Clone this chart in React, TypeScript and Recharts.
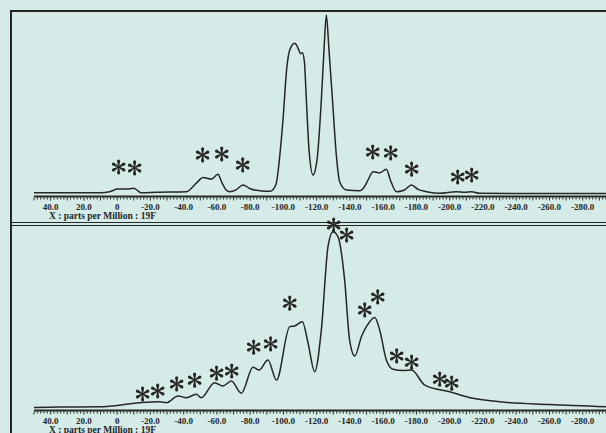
import { ComposedChart, Line, Scatter, XAxis, YAxis } from "recharts";

// chemical shift (ppm) and relative intensity, upper spectrum
const topPpm = [50, 30, 10, 4.5, -0.5, -5.5, -9.9, -12, -14.5, -23.6, -41.6, -45.6, -48.5, -51.6, -56.7, -60.6, -63, -65.5, -67.7, -71.5, -75.7, -80, -85.7, -92, -95.5, -97.7, -99.7, -102.1, -103.8, -106.8, -108.8, -110.2, -111.4, -112.6, -113.8, -115.4, -117.8, -120.2, -122.8, -124.4, -125.8, -127.4, -129.5, -131.9, -133.8, -137.9, -145.9, -148.5, -150.9, -153.9, -157.9, -161.9, -164.3, -167.9, -172.5, -177, -181, -186, -194, -204, -209, -213, -218, -250, -300];
const topInt = [2.0, 2.0, 2.0, 2.6, 4.0, 4.0, 4.4, 3.4, 2.0, 2.3, 2.6, 5.3, 8.0, 10.3, 9.4, 12.0, 7.5, 3.5, 2.6, 3.6, 6.2, 4.2, 3.1, 2.8, 6.5, 21, 41, 70, 79, 82.6, 80, 77, 77.5, 72.7, 52, 25, 11.6, 19.7, 52, 79, 97.8, 79, 52, 21.5, 8, 3.5, 3.1, 5.0, 8.9, 13.4, 12.8, 14.7, 8.9, 2.6, 3.4, 6.2, 3.8, 2.6, 1.7, 2.6, 2.3, 2.6, 1.7, 1.6, 1.6];

// lower spectrum
const botPpm = [50, 35, 10.5, -13.5, -25.6, -29.6, -36.6, -41.6, -47.6, -50.6, -58.6, -63.6, -68.7, -74.7, -81.7, -85.3, -90.7, -95.8, -103.8, -106.8, -111.4, -114.8, -118.8, -122.8, -126.8, -129.8, -132.8, -136.8, -139.8, -142.9, -146.9, -149.9, -154.9, -157.9, -161.9, -165.9, -172, -177, -185, -200, -214, -230, -260, -300];
const botInt = [1.6, 1.9, 2.0, 4.2, 4.7, 4.2, 7.8, 6.9, 8.7, 6.9, 15, 13.2, 15.9, 9.3, 23.3, 21.8, 27.2, 16.4, 45.2, 45.6, 47.9, 36.4, 20.9, 43.4, 88.3, 96.4, 93.7, 70.4, 38, 29.4, 39.8, 45.2, 50.2, 43.4, 27.2, 22.2, 21.5, 21.8, 13.7, 10.1, 6.6, 4.7, 3.2, 1.8];

// asterisk annotations
const topStarPpm = [-0.9, -10.5, -51.4, -62.9, -75.5, -153.7, -164.5, -177.1, -204.8, -213.2];
const topStarInt = [15.9, 15.4, 22.4, 22.9, 17, 24, 23.5, 14.8, 10.5, 11.6];
const botStarPpm = [-15.3, -24.4, -35.8, -46.6, -59.8, -68.9, -82.1, -92.3, -103.8, -130.2, -138, -148.9, -156.7, -168.1, -177.1, -194, -201.2];
const botStarInt = [8.9, 10.5, 14.3, 16.4, 20.2, 21.3, 34.2, 35.9, 57.9, 100, 94.6, 54.2, 61.2, 29.4, 26.1, 16.9, 14.8];

const labelTicks = [40, 20, 0, -20, -40, -60, -80, -100, -120, -140, -160, -180, -200, -220, -240, -260, -280];

const minorTicks: number[] = [];
for (let v = 50; v >= -300; v -= 2) minorTicks.push(v);

const ink = "#262626";
const bg = "#d4ebe8";
const serif = "'Liberation Serif', 'Times New Roman', serif";

const zip = (a: number[], b: number[]) => a.map((p, i) => ({ ppm: p, v: b[i] }));

const AxisTick = ({ x, y, payload }: any) => {
  const v = payload.value;
  const long = v % 10 === 0;
  return (
    <g>
      <line x1={x} x2={x} y1={y + 1} y2={y + (long ? 4 : 3)} stroke={ink} strokeWidth={1} />
      {labelTicks.includes(v) && (
        <text x={x} y={y + 13} textAnchor="middle" fontFamily={serif} fontWeight="bold" fontSize={9} fill={ink}>
          {v === 0 ? "0" : v.toFixed(1)}
        </text>
      )}
    </g>
  );
};

const AxisTitle = ({ viewBox }: any) => (
  <text x={viewBox.x + 15} y={viewBox.y + 22.5} fontFamily={serif} fontWeight="bold" fontSize={9.5} fill={ink}>
    X : parts per Million : 19F
  </text>
);

// six-spoked asterisk, spokes widen towards the tips
const Star = ({ cx, cy }: any) => {
  const r = 7.5;
  const spokes = [90, 30, -30, -90, 150, 210].map((deg) => {
    const a = (deg * Math.PI) / 180;
    const ux = Math.cos(a);
    const uy = -Math.sin(a);
    const px = -uy;
    const py = ux;
    const tx = cx + ux * (r - 1.4);
    const ty = cy + uy * (r - 1.4);
    const d = `M${cx + px * 0.5},${cy + py * 0.5} L${tx + px * 1.5},${ty + py * 1.5} L${tx - px * 1.5},${ty - py * 1.5} L${cx - px * 0.5},${cy - py * 0.5} Z`;
    return (
      <g key={deg}>
        <path d={d} />
        <circle cx={tx} cy={ty} r={1.5} />
      </g>
    );
  });
  return <g fill={ink} stroke="none">{spokes}</g>;
};

function Spectrum({ line, stars }: { line: { ppm: number; v: number }[]; stars: { ppm: number; v: number }[] }) {
  return (
    <ComposedChart width={620} height={226.5} margin={{ top: 11, right: 4, bottom: 0, left: 34 }}>
      <XAxis
        dataKey="ppm"
        type="number"
        domain={[-300, 50]}
        reversed
        ticks={minorTicks}
        interval={0}
        tickSize={0}
        tickMargin={0}
        tickLine={false}
        tick={<AxisTick />}
        height={30}
        axisLine={{ stroke: ink, strokeWidth: 2 }}
        label={<AxisTitle />}
      />
      <YAxis type="number" domain={[0, 100]} width={0} tick={false} tickLine={false} axisLine={{ stroke: ink, strokeWidth: 2 }} />
      <Line data={line} dataKey="v" type="monotone" stroke={ink} strokeWidth={1.5} dot={false} isAnimationActive={false} />
      <Scatter data={stars} dataKey="v" shape={<Star />} isAnimationActive={false} />
    </ComposedChart>
  );
}

export default function App() {
  return (
    <div style={{ position: "fixed", left: 0, top: 0, width: 606, height: 433, overflow: "hidden", background: bg }}>
      <div style={{ position: "absolute", left: 0, top: 0 }}>
        <Spectrum line={zip(topPpm, topInt)} stars={zip(topStarPpm, topStarInt)} />
      </div>
      <div style={{ position: "absolute", left: 0, top: 214 }}>
        <Spectrum line={zip(botPpm, botInt)} stars={zip(botStarPpm, botStarInt)} />
      </div>
      <div style={{ position: "absolute", left: 9.5, top: 10, width: 600, height: 2, background: ink }} />
      <div style={{ position: "absolute", left: 9.5, top: 10, width: 2, height: 430, background: ink }} />
      <div style={{ position: "absolute", left: 10, top: 222, width: 600, height: 1, background: ink }} />
      <div style={{ position: "absolute", left: 10, top: 224.5, width: 600, height: 1.5, background: ink }} />
    </div>
  );
}
